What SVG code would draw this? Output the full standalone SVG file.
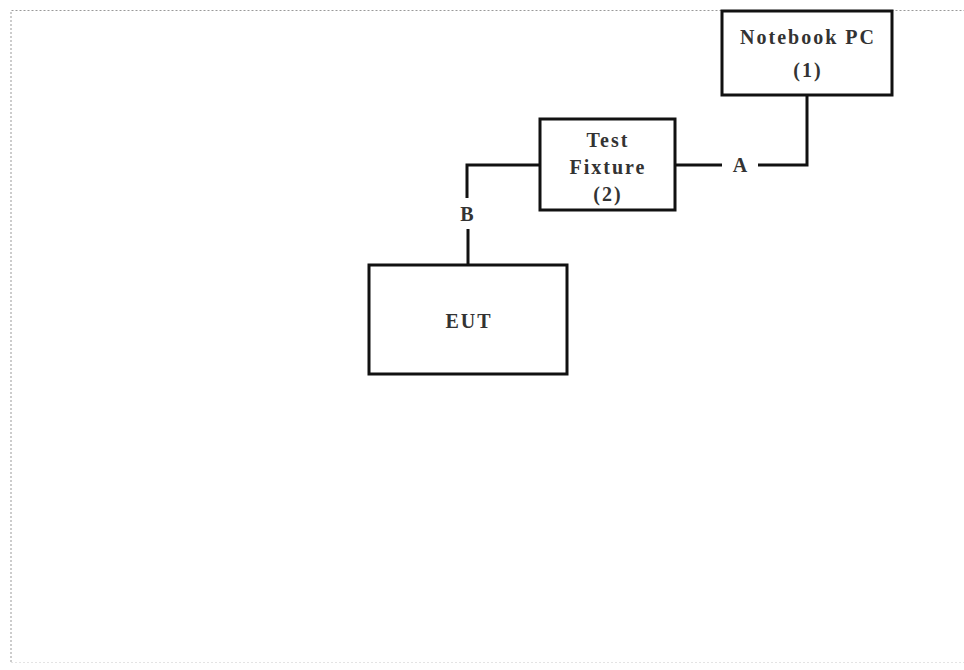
<svg xmlns="http://www.w3.org/2000/svg" width="964" height="670" viewBox="0 0 964 670">
<style>
.box{fill:#fff;stroke:#111;stroke-width:3}
.ln{fill:none;stroke:#111;stroke-width:3}
.t{font-family:"Liberation Serif","Times New Roman",serif;font-weight:bold;font-size:20px;fill:#333;text-anchor:middle;letter-spacing:2px}
.frame{fill:none;stroke:#999;stroke-width:1;stroke-dasharray:2 2}
</style>
<rect width="964" height="670" fill="#fff"/>
<path class="frame" d="M11 662 V10.5 H964"/>
<path fill="none" stroke="#e4e4e4" stroke-width="1" stroke-dasharray="2 2" d="M11 662.5 H964"/>
<g id="connectors">
<path class="ln" d="M807 95 V165 H758"/>
<path class="ln" d="M675 165 H722"/>
<path class="ln" d="M540 165 H467 V198"/>
<path class="ln" d="M468 229 V265"/>
<text class="t" x="741" y="172">A</text>
<text class="t" x="468" y="221">B</text>
</g>
<g id="notebook">
<rect class="box" x="722" y="11" width="170" height="84"/>
<text class="t" x="808" y="44">Notebook PC</text>
<text class="t" x="808" y="77">(1)</text>
</g>
<g id="fixture">
<rect class="box" x="540" y="119" width="135" height="91"/>
<text class="t" x="608" y="147">Test</text>
<text class="t" x="608" y="174">Fixture</text>
<text class="t" x="608" y="201">(2)</text>
</g>
<g id="eut">
<rect class="box" x="369" y="265" width="198" height="109"/>
<text class="t" x="469" y="328">EUT</text>
</g>
</svg>
